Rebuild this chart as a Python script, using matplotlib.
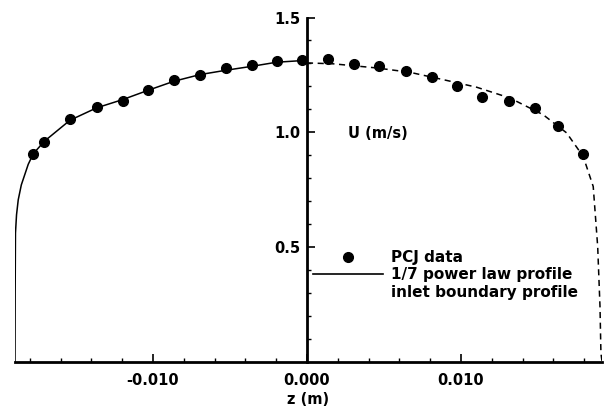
import matplotlib.pyplot as plt
from matplotlib.lines import Line2D

plt.rcParams["font.family"] = ["DejaVu Sans"]
plt.rcParams["font.weight"] = "bold"
plt.rcParams["axes.labelweight"] = "bold"
plt.rcParams["font.size"] = 10.5

# PCJ measured data (z in m, U in m/s)
pcj_z = [-0.01777, -0.01706, -0.01539, -0.01366, -0.01197, -0.01030, -0.00864,
         -0.00695, -0.00526, -0.00359, -0.00197, -0.00034,
         0.00138, 0.00305, 0.00468, 0.00641, 0.00810, 0.00972, 0.01138,
         0.01312, 0.01481, 0.01632, 0.01794]
pcj_u = [0.906, 0.955, 1.059, 1.110, 1.134, 1.186, 1.229,
         1.251, 1.280, 1.292, 1.309, 1.315,
         1.320, 1.299, 1.290, 1.265, 1.241, 1.200, 1.154,
         1.134, 1.104, 1.029, 0.905]

# 1/7 power law profile (left half, traced)
power_z = [-0.01896, -0.01895, -0.01893, -0.01886, -0.01875, -0.01855, -0.01810,
           -0.01777, -0.01706, -0.01539, -0.01366, -0.01197, -0.01030, -0.00864,
           -0.00695, -0.00526, -0.00359, -0.00197, -0.00034, 0.0]
power_u = [0.0, 0.30, 0.56, 0.640, 0.705, 0.770, 0.860,
           0.906, 0.960, 1.052, 1.106, 1.142, 1.183, 1.222,
           1.251, 1.270, 1.287, 1.305, 1.312, 1.303]

# inlet boundary profile (right half, traced)
inlet_z = [0.0, 0.00171, 0.00453, 0.00669, 0.00885, 0.01102, 0.01318, 0.01534,
           0.01686, 0.01794, 0.01859, 0.01888, 0.01903, 0.01909, 0.01916]
inlet_u = [1.302, 1.298, 1.280, 1.261, 1.229, 1.196, 1.149, 1.076,
           0.997, 0.894, 0.763, 0.501, 0.239, 0.037, 0.0]

fig = plt.figure(figsize=(6.09, 4.08), dpi=100)
ax = fig.add_axes([15 / 609, 1 - 361.5 / 408, 587 / 609, 344 / 408])

ax.plot(power_z, power_u, color="black", lw=1.1)
ax.plot(inlet_z, inlet_u, color="black", lw=1.1, linestyle=(0, (4, 3)))
ax.plot(pcj_z, pcj_u, "o", color="black", markersize=7, linestyle="none")

ax.set_xlim(-0.01896, 0.01916)
ax.set_ylim(0, 1.5)

# axis styling: y axis through z = 0
ax.spines["top"].set_visible(False)
ax.spines["right"].set_visible(False)
ax.spines["left"].set_position(("data", 0.0))
ax.spines["left"].set_linewidth(2.0)
ax.spines["bottom"].set_linewidth(2.0)
ax.spines["left"].set_bounds(0, 1.5)

ax.set_xticks([-0.010, 0.0, 0.010])
ax.set_xticklabels(["-0.010", "0.000", "0.010"])
ax.set_xticks([-0.018 + 0.002 * i for i in range(19)], minor=True)
ax.set_yticks([0.5, 1.0, 1.5])
ax.set_yticklabels(["0.5", "1.0", "1.5"])
ax.set_yticks([0.1 * i for i in range(1, 15)], minor=True)
ax.tick_params(axis="both", which="major", direction="in", length=6, width=1.2,
               labelsize=10.5, pad=5)
ax.tick_params(axis="both", which="minor", direction="in", length=3, width=1)
ax.tick_params(axis="x", which="major", pad=8)

ax.set_xlabel("z (m)", fontsize=10.5, labelpad=3)
ax.text(348 / 609, 1 - 134 / 408, "U (m/s)", transform=fig.transFigure,
        fontsize=10.5, va="center", ha="left")

handles = [
    Line2D([], [], marker="o", color="black", markersize=7, linestyle="none"),
    Line2D([], [], color="black", lw=1.2),
    Line2D([], [], linestyle="none"),
]
labels = ["PCJ data", "1/7 power law profile", "inlet boundary profile"]
fig.legend(handles, labels, loc="center left",
           bbox_to_anchor=(313 / 609, 1 - 275 / 408),
           frameon=False, borderpad=0, borderaxespad=0,
           handlelength=4.6, handletextpad=0.5, labelspacing=0.15,
           fontsize=11)

plt.savefig("out.png", dpi=100)
